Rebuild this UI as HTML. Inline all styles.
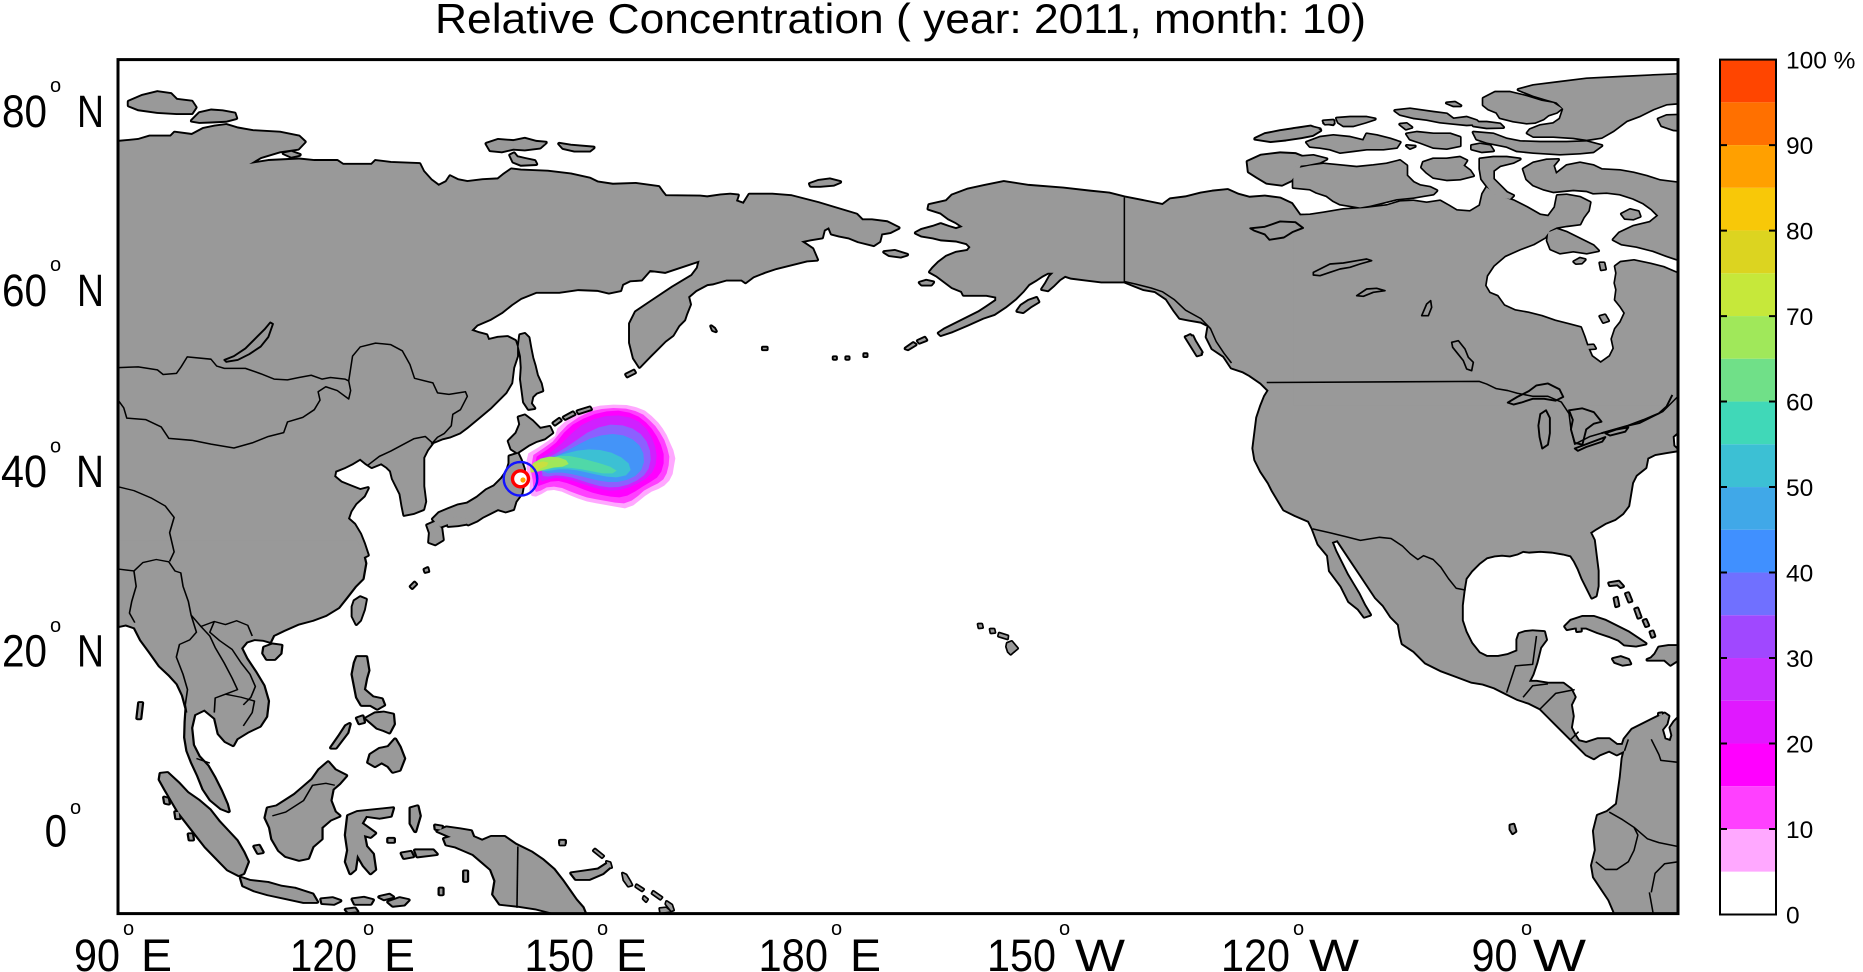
<!DOCTYPE html>
<html><head><meta charset="utf-8"><style>
html,body{margin:0;padding:0;background:#fff;}
svg{display:block;}
text{font-family:"Liberation Sans",Arial,sans-serif;fill:#000;}
</style></head><body>
<svg width="1863" height="972" viewBox="0 0 1863 972" xmlns="http://www.w3.org/2000/svg">
<defs>
<clipPath id="mc"><rect x="118" y="59.6" width="1560" height="854"/></clipPath>
<g id="geo">
 <g transform="translate(100,50) scale(0.38265)">
  <path d="M-20,240 L47,240 100,235 130,226 185,226 195,216 240,222 270,206 300,200 330,196 360,205 400,212 470,216 520,226 535,240 518,258 470,265 420,280 390,298 440,290 520,286 560,290 620,290 635,300 710,300 720,290 760,295 835,298 845,318 865,340 885,355 905,345 915,330 935,340 960,345 1000,340 1040,338 1055,326 1075,312 1100,315 1170,318 1230,325 1280,336 1300,346 1340,352 1400,350 1460,358 1470,372 1478,382 1568,383 1587,385 1622,380 1647,378 1667,380 1662,395 1682,402 1697,378 1757,378 1807,382 1877,400 1917,412 1977,430 1992,445 2017,445 2057,450 2087,465 2065,476 2042,480 2037,500 2022,510 1982,500 1957,490 1932,485 1912,480 1905,463 1892,470 1887,490 1857,495 1832,500 1847,510 1862,520 1874,548 1847,550 1767,570 1737,580 1707,592 1687,607 1677,600 1637,600 1602,610 1587,612 1557,628 1537,645 1542,665 1532,690 1527,705 1512,720 1497,745 1477,760 1457,780 1437,800 1410,828 1395,805 1385,765 1385,715 1400,685 1437,660 1497,620 1547,590 1562,570 1567,550 1537,560 1477,580 1437,575 1415,600 1385,602 1365,612 1360,628 1330,634 1300,627 1250,625 1200,632 1140,632 1100,648 1075,665 1050,685 1020,703 985,718 970,733 990,740 1010,745 1015,758 1040,752 1065,750 1085,760 1090,775 1090,800 1080,830 1075,870 1060,895 1040,915 1020,935 990,960 960,985 940,1000 915,1010 895,1015 870,1025 855,1045 845,1065 845,1100 845,1140 850,1180 845,1200 820,1210 795,1215 790,1190 785,1160 775,1140 765,1120 760,1100 750,1090 735,1080 710,1090 695,1080 680,1068 660,1080 640,1090 615,1100 612,1115 630,1130 655,1140 680,1150 700,1145 690,1165 668,1185 655,1205 648,1225 665,1240 680,1265 690,1290 700,1320 680,1330 -20,1330 Z"/>
  <path d="M75,135 L110,120 150,110 185,115 200,130 240,135 250,150 240,165 200,165 150,162 100,155 75,145 Z"/>
  <path d="M240,185 L260,165 290,158 320,160 352,166 356,178 330,185 290,187 260,188 Z"/>
  <path d="M480,270 L500,266 522,274 500,279 Z"/>
  <path d="M1010,245 L1040,235 1080,238 1110,232 1140,240 1165,242 1150,255 1110,260 1080,258 1050,265 1020,262 Z"/>
  <path d="M1200,245 L1230,250 1290,255 1280,263 1240,263 1210,256 Z"/>
  <path d="M1072,275 L1082,270 1090,280 1112,285 1136,290 1140,298 1100,300 1080,292 Z"/>
  <path d="M1098,745 L1110,742 1120,752 1125,780 1130,805 1136,825 1142,850 1152,872 1156,890 1140,896 1130,906 1126,924 1135,936 1120,938 1108,920 1104,890 1100,860 1102,830 1100,800 1094,775 Z"/>
  <path d="M1068,1022 L1088,1002 1098,978 1094,960 1110,955 1130,970 1150,990 1175,985 1182,1000 1162,1015 1140,1022 1120,1032 1105,1042 1090,1052 1075,1042 Z"/>
  <path d="M1070,1062 L1092,1055 1100,1072 1108,1095 1108,1125 1102,1158 1086,1180 1080,1200 1060,1206 1040,1200 1020,1210 1000,1220 985,1230 962,1240 942,1226 922,1230 906,1240 890,1246 878,1236 870,1226 886,1210 910,1200 935,1190 960,1185 985,1170 1010,1150 1030,1140 1050,1120 1064,1100 1070,1080 Z"/>
  <path d="M855,1242 L878,1232 892,1250 896,1280 876,1292 860,1286 862,1262 Z"/>
  <path d="M905,1228 L930,1220 955,1222 958,1238 935,1242 910,1244 Z"/>
  <path d="M812,1402 L822,1392 826,1396 816,1406 Z"/>
  <path d="M848,1358 L856,1354 858,1362 850,1364 Z"/>
  <path d="M1185,975 L1200,964 1204,968 1189,979 Z"/>
  <path d="M1212,960 L1236,947 1240,952 1216,964 Z"/>
  <path d="M1248,944 L1280,934 1283,939 1251,949 Z"/>
  <path d="M1375,848 L1395,838 1398,843 1378,853 Z"/>
  <path d="M665,1440 L680,1430 695,1436 690,1462 680,1490 670,1500 660,1480 660,1455 Z"/>
 </g>
 <g transform="translate(650,50) scale(0.38265)">
  <path d="M418,350 L440,342 470,338 497,345 480,352 445,355 420,355 Z"/>
  <path d="M612,528 L640,525 672,535 655,540 625,536 Z"/>
  <path d="M705,608 L722,603 740,607 735,613 710,613 Z"/>
  <path d="M960,682 L970,668 990,655 1010,648 1015,658 995,670 975,685 Z"/>
  <path d="M668,780 L688,766 694,770 674,782 Z"/>
  <path d="M700,760 L718,752 722,758 704,765 Z"/>
  <path d="M160,722 L168,728 172,735 164,732 Z"/>
  <path d="M295,778 L305,778 305,782 295,782 Z"/>
  <path d="M480,803 L486,803 486,807 480,807 Z"/>
  <path d="M513,803 L519,803 519,807 513,807 Z"/>
  <path d="M560,795 L566,795 566,800 560,800 Z"/>
  <path d="M1400,750 L1418,748 1440,795 1430,798 Z"/>
 </g>
 <g transform="translate(1150,50) scale(0.38265)">
  <path d="M-517,380 L-477,365 -432,355 -382,345 -317,355 -227,362 -157,370 -107,375 -67,385 33,405 53,390 93,385 133,375 163,370 203,366 230,378 260,386 300,383 340,388 370,402 392,433 400,433 400,860 1420,860 1420,995 1380,998 1366,1010 1368,1035 1380,1046 1350,1051 1320,1056 1300,1066 1295,1091 1270,1111 1260,1131 1255,1161 1250,1191 1235,1211 1215,1226 1190,1236 1165,1251 1150,1261 1160,1281 1165,1321 1170,1361 1170,1401 1165,1426 1155,1431 1145,1411 1130,1381 1120,1356 1110,1336 1100,1321 1080,1316 1050,1311 1020,1309 990,1311 975,1309 960,1316 940,1321 920,1319 900,1321 880,1326 860,1341 840,1361 825,1381 820,1411 815,1451 815,1491 825,1521 840,1551 860,1576 880,1586 910,1586 935,1581 960,1571 960,1541 965,1526 980,1521 1000,1519 1030,1521 1035,1541 1020,1561 1010,1601 1000,1631 990,1651 1010,1651 1040,1656 1080,1656 1100,1671 1110,1691 1100,1711 1105,1741 1100,1771 1110,1791 1120,1806 1140,1811 1170,1801 1200,1801 1220,1816 1235,1816 1240,1801 1260,1776 1290,1761 1320,1746 1345,1734 1355,1741 1350,1761 1338,1776 1345,1801 1360,1806 1365,1791 1360,1771 1370,1756 1380,1746 1420,1746 1420,2300 1200,2300 1215,2256 1200,2221 1180,2191 1160,2161 1155,2131 1165,2091 1160,2041 1170,2001 1195,1991 1220,1971 1230,1901 1235,1851 1240,1831 1220,1841 1200,1831 1175,1841 1160,1851 1140,1841 1120,1821 1100,1801 1080,1781 1060,1761 1040,1741 1020,1721 990,1706 960,1696 930,1681 900,1666 870,1656 840,1651 800,1636 760,1621 720,1601 690,1571 660,1551 655,1531 650,1501 630,1481 610,1451 590,1431 570,1401 550,1371 530,1341 510,1311 490,1281 475,1286 485,1311 500,1341 515,1371 530,1396 545,1421 560,1451 575,1476 560,1481 545,1461 520,1441 500,1401 470,1361 465,1321 440,1291 425,1251 415,1231 380,1216 350,1201 320,1151 310,1131 290,1101 275,1071 270,1041 275,1001 280,961 290,931 300,906 310,890 290,870 261,850 243,840 213,830 193,800 163,780 148,750 153,720 133,710 103,705 78,700 63,680 43,650 13,630 -17,625 -42,615 -67,605 -127,605 -167,600 -207,595 -222,590 -237,600 -252,615 -267,628 -282,625 -272,610 -262,592 -252,582 -267,582 -282,590 -297,600 -317,612 -332,630 -352,650 -377,670 -407,690 -437,700 -477,718 -517,735 -547,745 -552,740 -537,730 -507,715 -477,700 -447,685 -427,672 -402,655 -402,645 -427,640 -462,640 -487,640 -492,630 -517,620 -537,605 -557,590 -575,580 -567,570 -552,555 -532,540 -507,530 -477,525 -469,515 -479,505 -507,498 -547,495 -567,490 -597,485 -612,478 -597,470 -567,462 -547,455 -527,462 -507,468 -489,462 -507,450 -527,440 -547,425 -579,415 -577,405 -532,395 Z"/>
  <path d="M255,292 L290,276 340,270 380,272 405,282 395,300 385,320 370,340 345,352 305,347 280,332 258,318 Z"/>
  <path d="M275,232 L300,220 340,212 380,206 420,200 445,210 425,222 395,228 355,234 315,238 Z"/>
  <path d="M455,190 L480,186 478,194 Z"/>
  <path d="M95,750 L105,745 120,765 135,790 125,795 110,775 Z"/>
 </g>
 <g transform="translate(1300,59) scale(0.333333)">
  <path d="M-20,470 L30,468 70,462 130,452 200,447 260,440 300,428 340,426 380,432 420,426 445,440 470,455 510,458 540,440 548,405 560,385 580,400 610,415 640,425 680,445 720,468 745,472 765,445 772,410 800,408 840,415 870,430 865,455 850,475 840,495 800,500 770,505 750,515 735,535 700,555 660,570 615,590 580,620 560,650 555,680 568,702 592,712 612,740 645,755 685,762 725,772 765,786 805,796 842,806 852,832 862,862 875,892 902,912 930,892 942,868 936,840 946,810 962,790 975,762 962,742 946,722 950,692 945,672 950,642 946,622 962,610 1002,605 1050,615 1090,625 1130,642 1160,645 1160,1040 -20,1040 Z"/>
  <path d="M655,92 L700,80 780,70 860,60 960,55 1060,50 1160,46 1160,130 1100,135 1060,150 1020,170 980,185 960,200 940,215 905,235 860,242 820,236 760,232 700,232 682,222 690,212 720,200 760,194 780,180 790,150 770,130 740,122 700,110 Z"/>
  <path d="M550,118 L585,100 630,100 680,112 725,126 760,132 785,148 770,160 745,168 730,180 705,190 680,192 640,186 600,176 590,160 565,150 550,138 Z"/>
  <path d="M1075,180 L1100,170 1160,168 1160,215 1120,212 1085,200 Z"/>
  <path d="M285,155 L330,150 400,160 440,165 460,180 500,175 530,185 540,195 500,197 460,193 420,189 380,181 340,176 300,166 Z"/>
  <path d="M300,196 L320,194 335,205 318,210 Z"/>
  <path d="M440,132 L465,130 482,140 460,140 Z"/>
  <path d="M515,190 L560,190 600,195 610,205 560,206 520,200 Z"/>
  <path d="M70,186 L100,184 102,193 75,195 Z"/>
  <path d="M110,178 L150,175 200,175 225,180 195,190 160,200 130,200 115,190 Z"/>
  <path d="M-20,210 L40,205 60,210 30,220 -20,226 Z"/>
  <path d="M20,250 L60,235 100,230 150,235 190,245 200,225 230,230 270,240 300,250 290,265 250,270 200,270 160,275 120,280 90,270 60,265 30,262 Z"/>
  <path d="M320,225 L350,220 400,225 450,225 480,235 480,260 440,268 400,265 360,250 330,240 Z"/>
  <path d="M320,260 L345,262 330,268 Z"/>
  <path d="M515,260 L540,255 570,260 580,275 545,278 515,270 Z"/>
  <path d="M520,220 L580,225 620,240 660,248 720,250 800,250 860,248 905,260 880,278 840,282 780,285 700,280 650,275 620,262 560,250 530,240 Z"/>
  <path d="M-20,295 L40,290 80,300 60,310 20,318 -20,322 Z"/>
  <path d="M-20,330 L30,320 70,315 120,320 170,325 220,320 260,315 300,305 320,320 320,350 340,370 360,380 390,385 410,395 400,405 370,410 340,415 290,420 250,430 210,440 180,445 150,440 120,435 100,425 80,410 50,400 30,390 -20,385 Z"/>
  <path d="M370,310 L400,300 440,300 480,295 500,305 490,320 510,335 520,350 480,360 440,362 400,355 380,340 365,325 Z"/>
  <path d="M540,300 L580,295 620,295 660,300 640,310 600,320 580,335 580,360 600,380 620,400 640,410 630,420 600,415 575,400 560,380 545,360 540,330 Z"/>
  <path d="M670,330 L700,312 740,303 775,302 760,320 768,345 800,320 840,312 880,320 905,332 960,335 1000,342 1040,352 1080,365 1160,375 1160,600 1130,600 1100,590 1060,575 1010,562 965,555 940,542 958,522 1000,502 1050,490 1075,470 1055,450 1030,432 1000,418 960,405 920,400 880,402 860,395 820,392 790,395 760,398 730,390 700,378 680,360 Z"/>
  <path d="M745,520 L770,510 800,520 840,540 880,560 895,575 860,582 820,576 780,582 752,570 742,545 Z"/>
  <path d="M965,465 L990,452 1015,458 1020,472 1000,480 975,478 Z"/>
  <path d="M822,608 L840,598 855,602 845,612 828,613 Z"/>
  <path d="M900,612 L912,612 916,630 904,632 Z"/>
  <path d="M900,772 L915,768 925,785 910,790 Z"/>
  <path d="M855,860 L880,858 886,868 860,870 Z"/>
 </g>
 <g transform="translate(1150,372) scale(0.38265)">
  <path d="M1085,665 L1100,650 1130,640 1160,640 1190,650 1220,665 1250,680 1280,700 1295,710 1270,715 1240,712 1225,700 1200,690 1170,680 1140,668 1110,668 1090,672 Z"/>
  <path d="M1310,748 L1320,738 1330,720 1355,716 1380,716 1380,752 1360,765 1345,752 1325,752 1300,752 Z"/>
  <path d="M1210,750 L1230,745 1250,752 1255,762 1235,765 1215,758 Z"/>
  <path d="M1200,552 L1225,548 1236,560 1230,562 1222,555 1202,557 Z"/>
  <path d="M1214,592 L1220,590 1224,610 1218,612 Z"/>
  <path d="M1244,580 L1250,578 1258,598 1252,600 Z"/>
  <path d="M1268,620 L1274,618 1282,640 1276,642 Z"/>
  <path d="M1290,650 L1296,648 1302,662 1296,664 Z"/>
  <path d="M1308,680 L1314,678 1318,690 1312,692 Z"/>
  <path d="M1115,668 L1125,666 1126,676 1116,677 Z"/>
  <path d="M942,1185 L950,1183 955,1200 948,1205 942,1195 Z"/>
  <path d="M1330,893 L1338,892 1338,897 1330,898 Z"/>
 </g>
 <g transform="translate(0,372) scale(0.44643,0.38265)">
  <path d="M-10,440 L800,440 812,470 818,500 812,540 795,560 775,590 758,615 730,635 700,648 668,658 635,675 612,688 605,705 590,700 570,698 552,705 540,722 552,750 572,785 590,820 600,860 596,900 582,925 555,940 530,958 522,975 505,965 490,945 482,905 458,882 435,895 428,930 432,975 445,1005 465,1030 480,1060 495,1095 508,1130 512,1148 495,1140 472,1118 456,1090 444,1055 430,1020 420,990 415,955 416,915 418,880 410,845 398,815 380,792 358,768 335,730 316,700 302,668 282,660 265,664 -10,664 Z"/>
  <path d="M592,720 L610,712 630,715 628,735 615,750 598,750 590,735 Z"/>
  <path d="M800,745 L820,745 825,780 820,800 815,830 835,850 855,855 860,870 845,880 830,870 810,870 800,850 795,820 790,790 795,760 Z"/>
  <path d="M820,905 L840,892 860,890 880,895 882,920 872,942 860,936 845,930 835,920 Z"/>
  <path d="M830,1000 L850,985 870,980 885,960 895,980 905,1010 895,1040 880,1045 870,1030 855,1020 840,1030 825,1020 Z"/>
  <path d="M742,982 L760,952 775,925 783,920 778,942 765,962 752,982 Z"/>
  <path d="M800,905 L812,900 815,915 805,918 Z"/>
  <path d="M600,1140 L620,1135 640,1120 660,1105 680,1085 700,1065 715,1040 735,1020 750,1040 775,1055 760,1075 745,1090 740,1120 750,1150 760,1160 740,1170 720,1190 720,1220 700,1240 690,1270 670,1275 640,1265 625,1250 610,1220 605,1190 595,1165 Z"/>
  <path d="M360,1050 L375,1048 400,1075 420,1100 445,1120 470,1145 490,1175 510,1200 530,1225 545,1255 555,1280 545,1310 535,1315 510,1300 485,1270 460,1240 440,1210 420,1180 400,1150 385,1120 370,1090 358,1065 Z"/>
  <path d="M540,1322 L560,1330 600,1335 630,1345 660,1350 700,1365 710,1385 680,1385 640,1375 600,1365 570,1355 545,1342 Z"/>
  <path d="M720,1378 L745,1375 762,1382 748,1390 722,1388 Z"/>
  <path d="M790,1378 L815,1374 835,1380 830,1390 795,1390 Z"/>
  <path d="M850,1372 L872,1366 880,1372 860,1378 Z"/>
  <path d="M870,1385 L895,1375 915,1380 905,1392 880,1395 Z"/>
  <path d="M775,1405 L795,1402 800,1410 780,1412 Z"/>
  <path d="M780,1160 L800,1150 840,1145 880,1140 875,1160 850,1165 820,1160 810,1180 840,1205 830,1215 815,1210 820,1240 835,1260 840,1300 830,1310 815,1290 800,1260 795,1300 785,1310 775,1280 780,1250 775,1210 Z"/>
  <path d="M920,1140 L935,1135 940,1160 930,1200 920,1180 Z"/>
  <path d="M900,1258 L920,1254 925,1266 905,1270 Z"/>
  <path d="M930,1250 L970,1250 978,1260 935,1266 Z"/>
  <path d="M975,1185 L990,1188 988,1196 976,1194 Z"/>
  <path d="M870,1220 L882,1220 882,1228 870,1228 Z"/>
  <path d="M980,1200 L1000,1190 1030,1195 1055,1200 1060,1215 1080,1225 1100,1215 1130,1215 1155,1235 1190,1255 1215,1275 1240,1300 1260,1330 1275,1355 1290,1380 1305,1400 1312,1420 1260,1420 1200,1402 1160,1395 1120,1390 1105,1365 1110,1330 1100,1300 1080,1280 1060,1260 1040,1250 1020,1240 1000,1235 995,1220 1010,1215 Z"/>
  <path d="M1280,1310 L1310,1305 1340,1300 1360,1285 1365,1295 1350,1310 1320,1325 1290,1325 Z"/>
  <path d="M312,865 L318,865 314,905 308,905 Z"/>
  <path d="M368,1112 L376,1115 378,1128 370,1126 Z"/>
  <path d="M393,1150 L400,1150 402,1166 395,1166 Z"/>
  <path d="M423,1208 L430,1208 432,1222 425,1222 Z"/>
  <path d="M570,1240 L580,1238 588,1255 578,1257 Z"/>
  <path d="M1040,1305 L1046,1305 1046,1330 1040,1330 Z"/>
  <path d="M985,1350 L991,1350 991,1365 985,1365 Z"/>
  <path d="M1255,1225 L1265,1225 1265,1231 1255,1231 Z"/>
 </g>
 <g transform="translate(560,580) scale(0.333333)">
  <path d="M1255,133 L1265,133 1267,142 1257,143 Z"/>
  <path d="M1291,148 L1302,148 1304,157 1293,158 Z"/>
  <path d="M1318,160 L1343,168 1342,176 1316,168 Z"/>
  <path d="M1342,190 L1355,185 1372,205 1360,215 1352,222 1345,215 1340,200 Z"/>
  <path d="M188,880 L198,885 210,905 215,915 205,918 192,900 Z"/>
  <path d="M230,915 L250,928 246,932 228,920 Z"/>
  <path d="M252,950 L262,958 258,964 250,956 Z"/>
  <path d="M280,935 L305,952 301,957 277,940 Z"/>
  <path d="M320,965 L335,975 340,990 334,992 318,972 Z"/>
  <path d="M300,986 L318,984 330,994 302,998 Z"/>
  <path d="M105,808 L130,828 126,832 101,812 Z"/>
  <path d="M140,845 L150,848 154,862 144,862 Z"/>
  <path d="M0,788 L14,788 14,794 0,794 Z"/>
 </g>
</g>
</defs>

<rect width="1863" height="972" fill="#fff"/>

<g clip-path="url(#mc)">
 <g transform="translate(480,390) scale(0.333333)">
  <path fill="#ffa8ff" d="M145,190 L175,172 205,152 225,138 232,115 255,95 290,72 325,55 360,47 400,44 440,45 470,52 495,62 515,78 535,98 548,115 560,135 570,158 580,180 586,205 582,228 578,252 568,272 553,287 535,297 515,305 495,318 478,332 460,346 435,355 405,350 378,345 350,340 320,334 293,325 268,315 245,305 222,300 202,302 185,312 168,320 155,318 148,300 150,280 140,250 140,210 Z"/>
  <path fill="#ff40ff" d="M160,195 L190,175 218,155 240,128 262,105 295,82 330,65 365,57 400,54 438,56 466,63 490,74 508,90 526,108 540,128 553,150 562,175 568,200 566,226 560,250 550,268 534,280 514,290 492,302 474,318 455,332 432,340 405,338 378,333 350,328 320,322 294,313 270,304 246,294 222,290 200,292 182,302 168,306 160,292 158,270 152,240 Z"/>
  <path fill="#ff00ff" d="M170,200 L200,180 228,158 252,128 278,104 310,86 345,72 380,64 415,62 448,68 476,80 498,97 516,117 531,140 543,165 551,192 551,220 544,245 531,263 511,276 489,289 466,304 442,317 418,322 392,320 365,315 337,308 310,298 285,288 260,279 236,273 212,275 192,282 175,288 166,266 163,235 Z"/>
  <path fill="#d020ff" d="M180,205 L215,185 245,160 275,130 305,105 340,88 378,78 415,76 448,82 476,95 498,115 514,140 525,168 530,196 527,224 516,248 498,266 474,280 448,292 420,300 392,302 362,298 333,290 305,281 278,272 252,266 226,264 204,268 186,274 175,260 176,232 Z"/>
  <path fill="#8c60ff" d="M190,210 L225,192 258,172 290,150 322,128 356,112 392,104 428,106 458,116 482,132 500,155 510,182 512,210 506,236 492,256 470,272 444,284 416,291 388,292 358,288 330,280 302,271 276,263 250,258 226,256 204,260 188,258 184,236 Z"/>
  <path fill="#4494f8" d="M198,212 L232,196 265,180 298,162 330,146 364,136 398,132 430,136 458,148 478,166 490,190 492,216 484,240 466,258 440,270 412,276 384,276 356,272 328,265 300,258 274,252 248,248 224,248 204,250 192,244 Z"/>
  <path fill="#3cc0d4" d="M192,212 L225,200 258,190 292,182 326,178 360,180 394,188 424,202 446,220 452,240 438,256 410,262 380,260 350,254 320,247 292,241 264,238 236,238 210,242 188,244 182,228 Z"/>
  <path fill="#50d8a8" d="M175,215 L205,205 236,198 268,198 300,204 330,212 360,220 390,230 410,242 398,250 368,250 336,244 306,238 276,234 248,232 220,234 196,240 172,244 Z"/>
  <path fill="#a0e85a" d="M158,220 L182,206 208,200 236,202 258,210 266,222 248,230 222,232 196,238 170,246 156,240 Z"/>
  <path fill="#c8e040" d="M150,228 L170,218 190,214 205,218 200,228 182,236 165,246 152,248 Z"/>
 </g>

 <use href="#geo" fill="#999999" stroke="#000" stroke-width="10" stroke-linejoin="round"/>
 <use href="#geo" fill="#999999" stroke="none"/>

 <g fill="none" stroke="#000" stroke-linejoin="round">
  <g transform="translate(100,50) scale(0.38265)" stroke-width="4">
   <path d="M47,830 L100,828 150,836 165,848 200,845 212,828 228,802 290,808 305,826 325,832 380,832 420,846 455,860 490,862 520,856 552,850 580,860 602,856 640,860 650,865"/>
   <path d="M650,865 L660,800 680,776 720,766 760,770 790,786 810,822 822,858 870,870 882,896 912,900 955,893 960,905 942,940 922,952 918,982 900,1002 882,1012 866,1030"/>
   <path d="M650,865 L655,890 650,912 620,890 590,880 570,893 575,915 560,940 530,960 490,972 480,1000 440,1010 400,1026 350,1040 290,1030 240,1020 180,1015 160,985 120,966 70,962 62,935 40,905"/>
   <path d="M700,1085 L730,1062 760,1048 790,1032 820,1016 850,1010 870,1028"/>
   <path stroke-width="5" d="M325,810 L350,800 380,780 410,750 430,730 445,712 452,716 440,750 420,775 390,795 360,810 330,815 Z"/>
  </g>
  <g transform="translate(0,372) scale(0.44643,0.38265)" stroke-width="3.6">
   <path d="M265,515 L300,520 320,498 350,490 378,496 392,520 405,525 410,560 422,600 428,635 450,665 480,652 505,660 530,650 555,662 565,690"/>
   <path d="M300,520 L305,560 295,600 290,630 302,655"/>
   <path d="M428,635 L440,680 425,700 402,712 395,745 410,790 420,830 415,870 418,890"/>
   <path d="M450,665 L470,690 482,720 502,760 520,800 532,830 505,842 482,852 480,890"/>
   <path d="M480,652 L470,680 492,702 520,725 540,760 560,790 572,822 562,850 545,870"/>
   <path d="M505,842 L540,850 570,860 565,890 545,925"/>
   <path d="M440,1010 L470,1022"/>
   <path d="M610,1160 L640,1150 680,1120 700,1080 730,1075 750,1080"/>
   <path d="M1160,1240 L1158,1400"/>
   <path d="M265,300 L300,310 340,330 370,350 390,380 380,420 390,470 380,495"/>
  </g>
  <g transform="translate(1150,50) scale(0.38265)" stroke-width="4">
   <path d="M-67,385 L-67,605 -37,612 3,622 33,632 63,652 93,680 133,702 158,728 173,762 193,792 213,818"/>
   <path d="M305,869 L860,866 880,873 905,885 935,890 960,897 1000,905 1040,905 1075,920 1095,950 1100,990 1110,1030 1150,1010 1185,1000 1220,990 1250,982 1280,975 1310,960 1340,945 1355,930 1370,915 1380,905"/>
   <path stroke-width="5" d="M262,466 L300,462 340,448 380,450 400,465 372,476 350,490 312,496 300,482 272,472 Z"/>
  </g>
  <g transform="translate(1150,372) scale(0.38265)" stroke-width="4">
   <path d="M425,410 L470,420 510,430 550,440 600,432 630,435 660,455 680,475 700,490 715,480 740,490 760,510 780,540 800,565 825,570"/>
   <path d="M932,838 L955,768 1000,764 1010,690"/>
   <path d="M975,850 L1000,820 1040,815"/>
   <path d="M1020,880 L1060,840 1110,830"/>
   <path d="M1100,960 L1120,940"/>
   <path d="M1240,990 L1250,960"/>
   <path d="M1200,1150 L1235,1170 1265,1190 1275,1210 1265,1250 1250,1280 1220,1300 1190,1300 1165,1280"/>
   <path d="M1265,1190 L1300,1220 1330,1230 1380,1240"/>
   <path d="M1310,1360 L1320,1310 1345,1285 1380,1280"/>
   <path d="M1305,1360 L1315,1415"/>
   <path d="M1310,960 L1330,1000 1335,1015 1380,1020"/>
   <g stroke-width="5">
    <path d="M935,80 L960,65 990,50 1010,35 1040,30 1070,45 1080,65 1060,75 1030,70 1000,70 970,80 950,85 Z"/>
    <path d="M1020,110 L1035,100 1045,120 1045,160 1040,190 1025,200 1018,170 1015,140 Z"/>
    <path d="M1095,100 L1130,95 1160,105 1180,130 1160,135 1140,150 1130,190 1110,185 1100,150 1105,125 Z"/>
    <path d="M1110,200 L1150,185 1190,170 1182,182 1140,196 1118,206 Z"/>
    <path d="M1190,160 L1220,150 1250,145 1242,156 1202,166 Z"/>
    <path d="M1180,160 L1250,140 1290,125 1330,108 1350,90 1365,60"/>
   </g>
  </g>
  <g transform="translate(1300,59) scale(0.333333)" stroke-width="5">
   <path d="M40,640 L90,615 130,612 170,605 200,600 215,605 180,615 150,625 120,630 90,640 60,650 40,648 Z"/>
   <path d="M170,710 L200,690 230,688 255,695 220,700 190,712 Z"/>
   <path d="M365,770 L380,735 392,725 395,745 385,770 Z"/>
   <path d="M455,850 L475,845 495,870 505,895 520,910 515,935 500,930 490,905 470,880 458,865 Z"/>
  </g>
 </g>

 <circle cx="520.5" cy="478.8" r="16.8" fill="none" stroke="#1414ff" stroke-width="2.4"/>
 <circle cx="520.5" cy="478.8" r="8" fill="#ffffff" stroke="#ff0000" stroke-width="3.4"/>
 <circle cx="523" cy="480" r="2.6" fill="#ffa000"/>
</g>

<rect x="118" y="59.6" width="1560" height="854" fill="none" stroke="#000" stroke-width="3"/>

<g>
 <rect x="1720" y="59.60" width="56" height="42.75" fill="#ff4500"/>
 <rect x="1720" y="102.35" width="56" height="42.75" fill="#ff7000"/>
 <rect x="1720" y="145.09" width="56" height="42.75" fill="#ffa000"/>
 <rect x="1720" y="187.84" width="56" height="42.75" fill="#f8c808"/>
 <rect x="1720" y="230.58" width="56" height="42.75" fill="#dcd420"/>
 <rect x="1720" y="273.33" width="56" height="42.75" fill="#c6e83a"/>
 <rect x="1720" y="316.07" width="56" height="42.75" fill="#a0e85a"/>
 <rect x="1720" y="358.82" width="56" height="42.75" fill="#70e088"/>
 <rect x="1720" y="401.56" width="56" height="42.75" fill="#40d8b8"/>
 <rect x="1720" y="444.31" width="56" height="42.75" fill="#3cc0d4"/>
 <rect x="1720" y="487.05" width="56" height="42.75" fill="#40a8e8"/>
 <rect x="1720" y="529.80" width="56" height="42.75" fill="#4090ff"/>
 <rect x="1720" y="572.54" width="56" height="42.75" fill="#7070ff"/>
 <rect x="1720" y="615.29" width="56" height="42.75" fill="#a048ff"/>
 <rect x="1720" y="658.03" width="56" height="42.75" fill="#c830ff"/>
 <rect x="1720" y="700.78" width="56" height="42.75" fill="#e018ff"/>
 <rect x="1720" y="743.52" width="56" height="42.75" fill="#ff00ff"/>
 <rect x="1720" y="786.27" width="56" height="42.75" fill="#ff40ff"/>
 <rect x="1720" y="829.01" width="56" height="42.75" fill="#ffa8ff"/>
 <rect x="1720" y="871.76" width="56" height="42.74" fill="#ffffff"/>
 <g stroke="#000" stroke-width="2">
  <path d="M1720,145.09h7M1769,145.09h7 M1720,230.58h7M1769,230.58h7 M1720,316.07h7M1769,316.07h7 M1720,401.56h7M1769,401.56h7 M1720,487.05h7M1769,487.05h7 M1720,572.54h7M1769,572.54h7 M1720,658.03h7M1769,658.03h7 M1720,743.52h7M1769,743.52h7 M1720,829.01h7M1769,829.01h7"/>
 </g>
 <rect x="1720" y="59.6" width="56" height="854.9" fill="none" stroke="#000" stroke-width="2"/>
 <g font-size="24.5">
  <text x="1786" y="68.4">100 %</text>
  <text x="1786" y="153.9">90</text>
  <text x="1786" y="239.4">80</text>
  <text x="1786" y="324.9">70</text>
  <text x="1786" y="410.4">60</text>
  <text x="1786" y="495.9">50</text>
  <text x="1786" y="581.3">40</text>
  <text x="1786" y="666.8">30</text>
  <text x="1786" y="752.3">20</text>
  <text x="1786" y="837.8">10</text>
  <text x="1786" y="923.3">0</text>
 </g>
</g>

<text x="435" y="33" font-size="42" textLength="931" lengthAdjust="spacingAndGlyphs">Relative Concentration ( year: 2011, month: 10)</text>

<g font-size="45">
 <text x="2" y="127" textLength="45" lengthAdjust="spacingAndGlyphs">80</text>
 <text x="77" y="127" textLength="27" lengthAdjust="spacingAndGlyphs">N</text>
 <text x="2" y="306" textLength="45" lengthAdjust="spacingAndGlyphs">60</text>
 <text x="77" y="306" textLength="27" lengthAdjust="spacingAndGlyphs">N</text>
 <text x="1" y="487" textLength="46" lengthAdjust="spacingAndGlyphs">40</text>
 <text x="76" y="487" textLength="28" lengthAdjust="spacingAndGlyphs">N</text>
 <text x="2" y="666.7" textLength="45" lengthAdjust="spacingAndGlyphs">20</text>
 <text x="77" y="666.7" textLength="27" lengthAdjust="spacingAndGlyphs">N</text>
 <text x="44.6" y="846.5" textLength="22.4" lengthAdjust="spacingAndGlyphs">0</text>
</g>
<g font-size="20">
 <text x="50" y="92">o</text>
 <text x="50" y="271">o</text>
 <text x="50" y="452.4">o</text>
 <text x="50" y="632">o</text>
 <text x="70" y="814">o</text>
</g>

<g font-size="45">
 <text x="74" y="971" textLength="46" lengthAdjust="spacingAndGlyphs">90</text>
 <text x="141" y="971" textLength="31" lengthAdjust="spacingAndGlyphs">E</text>
 <text x="290" y="971" textLength="67" lengthAdjust="spacingAndGlyphs">120</text>
 <text x="384" y="971" textLength="31" lengthAdjust="spacingAndGlyphs">E</text>
 <text x="524.5" y="971" textLength="69.5" lengthAdjust="spacingAndGlyphs">150</text>
 <text x="616" y="971" textLength="31" lengthAdjust="spacingAndGlyphs">E</text>
 <text x="758.5" y="971" textLength="69.5" lengthAdjust="spacingAndGlyphs">180</text>
 <text x="850" y="971" textLength="31" lengthAdjust="spacingAndGlyphs">E</text>
 <text x="987" y="971" textLength="69" lengthAdjust="spacingAndGlyphs">150</text>
 <text x="1075" y="971" textLength="50" lengthAdjust="spacingAndGlyphs">W</text>
 <text x="1221" y="971" textLength="69" lengthAdjust="spacingAndGlyphs">120</text>
 <text x="1309" y="971" textLength="50" lengthAdjust="spacingAndGlyphs">W</text>
 <text x="1471.5" y="971" textLength="46" lengthAdjust="spacingAndGlyphs">90</text>
 <text x="1533" y="971" textLength="53" lengthAdjust="spacingAndGlyphs">W</text>
</g>
<g font-size="20">
 <text x="123" y="935">o</text>
 <text x="363" y="935">o</text>
 <text x="597" y="935">o</text>
 <text x="831" y="935">o</text>
 <text x="1059" y="935">o</text>
 <text x="1293" y="935">o</text>
 <text x="1521" y="935">o</text>
</g>
</svg>
</body></html>
